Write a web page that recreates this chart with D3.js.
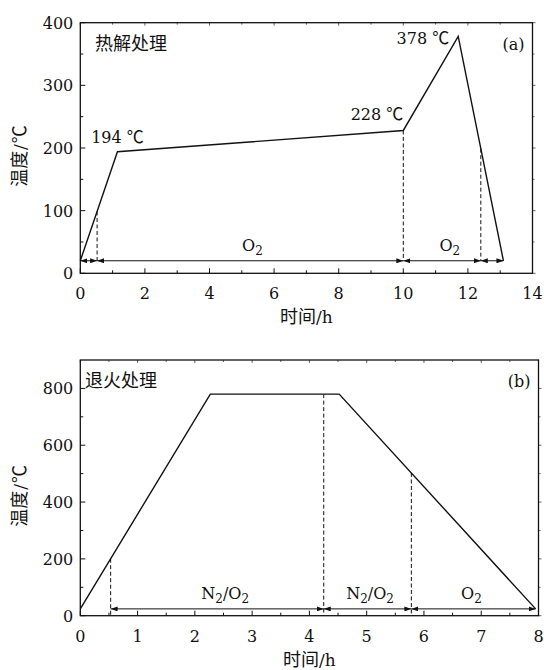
<!DOCTYPE html>
<html>
<head>
<meta charset="utf-8">
<script src="https://cdn.jsdelivr.net/npm/d3@7/dist/d3.min.js"></script>
<style>
  html, body { margin: 0; padding: 0; background: #fff; }
  svg { display: block; font-size: 16px; }
  text { font-family: "DejaVu Serif", "Liberation Serif", serif; fill: #111; }
  .num { font-family: "DejaVu Serif", "Liberation Serif", serif; fill: #111; }
  .cjk { font-family: "Noto Sans CJK SC", sans-serif; fill: #111; }
</style>
</head>
<body>
<svg id="chart" width="544" height="670"></svg>
<script>
// ---- Panel (a): pyrolysis profile ----
const timeA = [0, 1.15, 10, 11.7, 13.1];
const tempA = [20, 194, 228, 378, 20];
const annotatedA = [1, 2, 3];              // indices of labelled vertices
const boundsA = [0, 0.52, 10, 12.4, 13.1]; // atmosphere segment boundaries
const dashA = [0.52, 10, 12.4];            // dashed markers
const gasLevelA = 20;
const gasLabelsA = ["O2", "O2"];
const gasLabelTimeA = [5.33, 11.44];
const xTicksA = [0, 2, 4, 6, 8, 10, 12, 14];
const xMinorA = [1, 3, 5, 7, 9, 11, 13];
const yTicksA = [0, 100, 200, 300, 400];
const yMinorA = [50, 150, 250, 350];

// ---- Panel (b): annealing profile ----
const timeB = [0, 2.27, 4.52, 7.95];
const tempB = [24, 780, 780, 24];
const boundsB = [0.53, 4.25, 5.78, 7.95];
const dashB = [0.53, 4.25, 5.78];
const gasLevelB = 24;
const gasLabelsB = ["N2/O2", "N2/O2", "O2"];
const gasLabelTimeB = [2.53, 5.06, 6.83];
const xTicksB = [0, 1, 2, 3, 4, 5, 6, 7, 8];
const xMinorB = [0.5, 1.5, 2.5, 3.5, 4.5, 5.5, 6.5, 7.5];
const yTicksB = [0, 200, 400, 600, 800];
const yMinorB = [100, 300, 500, 700];

const svg = d3.select("#chart");

const defs = svg.append("defs");
defs.append("marker")
  .attr("id", "arrow")
  .attr("markerUnits", "userSpaceOnUse")
  .attr("markerWidth", 7).attr("markerHeight", 5)
  .attr("refX", 7).attr("refY", 2.5)
  .attr("orient", "auto-start-reverse")
  .append("path").attr("d", "M0,0L7,2.5L0,5Z").attr("fill", "#111");

// Formula-like label: digits following a letter are set as subscripts.
function gasText(sel, str) {
  const parts = str.match(/[A-Za-z]+|\d+|\//g);
  let lowered = false;
  parts.forEach(p => {
    const t = sel.append("tspan");
    if (/^\d+$/.test(p)) {
      t.attr("dy", 4).attr("font-size", 12).text(p);
      lowered = true;
    } else {
      if (lowered) { t.attr("dy", -4); lowered = false; }
      t.text(p);
    }
  });
}

function profileAt(times, temps, t) {
  for (let i = 0; i < times.length - 1; i++) {
    if (t >= times[i] && t <= times[i + 1]) {
      const f = (t - times[i]) / (times[i + 1] - times[i]);
      return temps[i] + f * (temps[i + 1] - temps[i]);
    }
  }
  return temps[temps.length - 1];
}

function panel(cfg) {
  const { x, y, g } = cfg;
  const [x0, x1] = x.range();
  const [y0, y1] = y.range();

  // ticks (inner on bottom/left, small on top/right)
  const tk = g.append("g").attr("stroke", "#111").attr("stroke-width", 1);
  cfg.xTicks.forEach(v => {
    tk.append("line").attr("x1", x(v)).attr("x2", x(v)).attr("y1", y0).attr("y2", y0 - 5);
    tk.append("line").attr("x1", x(v)).attr("x2", x(v)).attr("y1", y1).attr("y2", y1 + 3).attr("stroke", "#666");
  });
  cfg.xMinor.forEach(v => {
    tk.append("line").attr("x1", x(v)).attr("x2", x(v)).attr("y1", y0).attr("y2", y0 - 3);
    tk.append("line").attr("x1", x(v)).attr("x2", x(v)).attr("y1", y1).attr("y2", y1 + 2).attr("stroke", "#666");
  });
  cfg.yTicks.forEach(v => {
    tk.append("line").attr("x1", x0).attr("x2", x0 + 5).attr("y1", y(v)).attr("y2", y(v));
    tk.append("line").attr("x1", x1).attr("x2", x1 + 3).attr("y1", y(v)).attr("y2", y(v)).attr("stroke", "#666");
  });
  cfg.yMinor.forEach(v => {
    tk.append("line").attr("x1", x0).attr("x2", x0 + 3).attr("y1", y(v)).attr("y2", y(v));
    tk.append("line").attr("x1", x1).attr("x2", x1 + 2).attr("y1", y(v)).attr("y2", y(v)).attr("stroke", "#666");
  });

  // frame
  g.append("rect").attr("x", x0).attr("y", y1).attr("width", x1 - x0).attr("height", y0 - y1)
    .attr("fill", "none").attr("stroke", "#111").attr("stroke-width", 1.3);

  // tick labels
  g.selectAll(".xl").data(cfg.xTicks).join("text").attr("class", "num").attr("font-size", 16)
    .attr("x", d => x(d)).attr("y", y0 + 26).attr("text-anchor", "middle").text(d => d);
  g.selectAll(".yl").data(cfg.yTicks).join("text").attr("class", "num").attr("font-size", 16)
    .attr("x", x0 - 7).attr("y", d => y(d) + 6).attr("text-anchor", "end").text(d => d);

  // axis titles
  const xt = g.append("text").attr("font-size", 17)
    .attr("x", (x0 + x1) / 2).attr("y", y0 + 50).attr("text-anchor", "middle");
  xt.append("tspan").attr("class", "cjk").attr("font-size", 18).text("时间");
  xt.append("tspan").attr("class", "num").text("/h");
  const yt = g.append("text").attr("font-size", 17)
    .attr("transform", `translate(26,${(y0 + y1) / 2 + 8}) rotate(-90)`)
    .attr("text-anchor", "middle");
  yt.append("tspan").attr("class", "cjk").attr("font-size", 18).text("温度");
  yt.append("tspan").attr("class", "num").attr("dx", 1).text("/");
  yt.append("tspan").attr("class", "cjk").attr("font-size", 18).attr("dx", 1).text("℃");

  // dashed boundaries
  g.selectAll(".dash").data(cfg.dash).join("line")
    .attr("x1", d => x(d)).attr("x2", d => x(d))
    .attr("y1", d => y(profileAt(cfg.time, cfg.temp, d)))
    .attr("y2", cfg.dashBottom)
    .attr("stroke", "#111").attr("stroke-width", 1).attr("stroke-dasharray", "4,2.5");

  // atmosphere arrows
  const segs = d3.pairs(cfg.bounds);
  g.selectAll(".seg").data(segs).join("line")
    .attr("x1", d => x(d[0])).attr("x2", d => x(d[1]))
    .attr("y1", y(cfg.gasLevel)).attr("y2", y(cfg.gasLevel))
    .attr("stroke", "#111").attr("stroke-width", 1)
    .attr("marker-start", "url(#arrow)").attr("marker-end", "url(#arrow)");
  cfg.gasLabels.forEach((s, i) => {
    const t = g.append("text").attr("class", "num").attr("font-size", 16)
      .attr("x", x(cfg.gasLabelTime[i])).attr("y", y(cfg.gasLevel) - 10)
      .attr("text-anchor", "middle");
    gasText(t, s);
  });

  // temperature profile
  const line = d3.line().x(d => x(d[0])).y(d => y(d[1]));
  g.append("path").datum(d3.zip(cfg.time, cfg.temp)).attr("d", line)
    .attr("fill", "none").attr("stroke", "#111").attr("stroke-width", 1.4)
    .attr("stroke-linejoin", "miter");

  // panel title and tag
  g.append("text").attr("class", "cjk").attr("font-size", 18)
    .attr("x", cfg.titleX).attr("y", y1 + 27).text(cfg.title);
  g.append("text").attr("class", "num").attr("font-size", 16).attr("x", x1 - 8).attr("y", y1 + 27)
    .attr("text-anchor", "end").text(cfg.tag);
}

const gA = svg.append("g");
const xA = d3.scaleLinear().domain([0, 14]).range([80.3, 532.5]);
const yA = d3.scaleLinear().domain([0, 400]).range([273.3, 22.7]);
panel({
  g: gA, x: xA, y: yA,
  xTicks: xTicksA, xMinor: xMinorA, yTicks: yTicksA, yMinor: yMinorA,
  time: timeA, temp: tempA, dash: dashA, dashBottom: yA(gasLevelA),
  bounds: boundsA, gasLevel: gasLevelA, gasLabels: gasLabelsA, gasLabelTime: gasLabelTimeA,
  title: "热解处理", titleX: 95, tag: "(a)"
});

// vertex temperature annotations
const annOffsets = { 1: [0, -9, "middle"], 2: [0, -10, "end"], 3: [-9, 8, "end"] };
annotatedA.forEach(i => {
  const [dx, dy, anchor] = annOffsets[i];
  const t = gA.append("text").attr("font-size", 16)
    .attr("x", xA(timeA[i]) + dx).attr("y", yA(tempA[i]) + dy)
    .attr("text-anchor", anchor);
  t.append("tspan").attr("class", "num").text(tempA[i] + " ");
  t.append("tspan").attr("class", "cjk").attr("font-size", 17).text("℃");
});

const gB = svg.append("g");
const xB = d3.scaleLinear().domain([0, 8]).range([80.3, 538.5]);
const yB = d3.scaleLinear().domain([0, 900]).range([615.7, 360]);
panel({
  g: gB, x: xB, y: yB,
  xTicks: xTicksB, xMinor: xMinorB, yTicks: yTicksB, yMinor: yMinorB,
  time: timeB, temp: tempB, dash: dashB, dashBottom: yB(0),
  bounds: boundsB, gasLevel: gasLevelB, gasLabels: gasLabelsB, gasLabelTime: gasLabelTimeB,
  title: "退火处理", titleX: 85, tag: "(b)"
});
</script>
</body>
</html>
